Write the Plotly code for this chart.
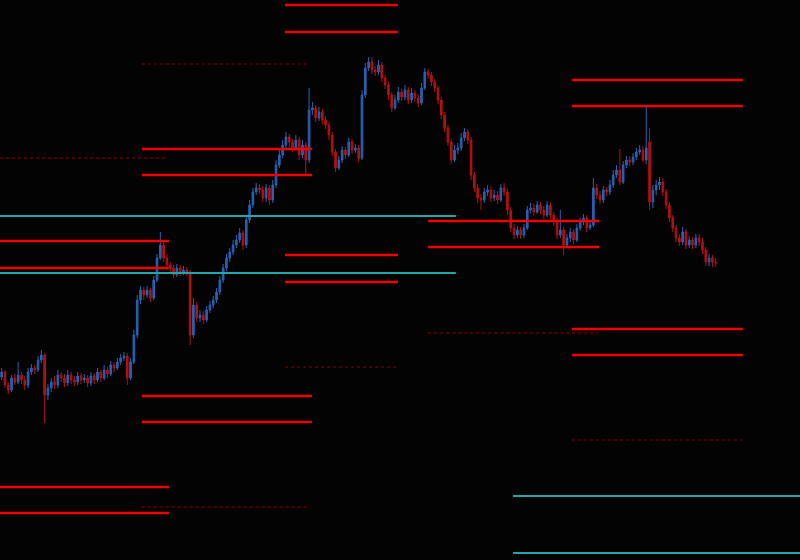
import plotly.graph_objects as go

# ---- candle data (price units, index = bar number) ----
opens = [183,188,175,170,182,178,185,180,175,188,
         192,190,200,205,165,172,178,175,185,182,
         177,185,180,178,184,180,182,177,184,180,
         188,182,190,186,195,192,198,202,204,182,
         198,225,260,270,265,270,262,280,302,315,
         302,295,292,285,292,287,290,288,225,255,
         242,245,240,250,255,260,268,280,292,302,
         308,315,320,327,315,340,355,368,372,370,
         362,372,360,375,395,405,415,423,418,412,
         420,405,415,400,450,452,442,448,440,435,
         425,408,392,400,410,405,418,410,412,402,
         465,492,498,490,488,495,482,475,465,452,
         460,468,463,470,460,467,462,457,472,488,
         485,478,472,460,445,432,418,400,410,412,
         422,428,420,385,372,362,360,368,370,362,
         365,360,372,368,350,332,325,330,325,332,
         350,352,348,355,350,345,355,345,338,325,
         330,315,322,328,320,332,338,342,332,335,
         372,365,360,370,368,375,385,390,378,395,
         400,398,403,408,410,400,418,358,370,375,
         378,368,355,342,332,322,318,328,315,320,
         315,322,318,310,298,302,298]
highs = [192,190,178,185,186,198,188,184,192,196,
         195,204,210,207,176,182,184,190,188,186,
         190,188,184,188,187,186,185,188,187,192,
         190,195,193,199,198,202,206,208,207,202,
         230,265,274,273,274,272,284,306,328,318,
         306,298,295,296,295,294,293,290,262,258,
         250,249,254,259,264,272,284,296,306,312,
         320,325,332,330,345,360,372,377,376,374,
         376,375,380,400,410,420,428,426,421,425,
         423,420,418,472,458,455,453,451,444,438,
         428,411,404,414,413,422,421,416,415,470,
         497,503,503,494,500,498,485,478,468,465,
         473,471,475,473,472,470,466,477,492,491,
         488,481,475,463,448,435,421,415,417,427,
         432,431,423,388,376,366,372,375,374,370,
         369,376,377,371,353,336,334,333,336,354,
         357,356,359,358,354,359,358,348,342,350,
         333,326,332,331,336,342,346,345,339,382,
         376,369,374,373,380,390,395,411,399,404,
         404,407,412,415,414,453,432,375,380,383,
         382,371,358,345,335,326,333,331,324,323,
         326,326,322,313,306,305,302]
lows = [180,172,166,168,175,176,176,170,172,185,
        186,188,197,137,160,168,171,172,178,173,
        174,176,174,175,176,177,173,174,176,178,
        178,180,182,184,188,190,195,199,175,180,
        196,222,256,260,262,258,260,278,300,298,
        290,288,282,283,284,285,284,215,222,238,
        238,236,238,247,252,257,265,277,289,298,
        305,312,317,310,312,337,352,365,366,358,
        358,355,357,372,392,402,412,412,408,409,
        400,402,385,397,445,438,439,436,431,420,
        404,388,390,397,401,403,406,407,398,400,
        462,489,486,484,485,478,471,460,448,450,
        457,459,460,456,457,458,453,455,470,481,
        474,468,456,441,428,414,396,398,406,409,
        419,416,380,368,357,350,357,364,358,359,
        356,358,364,345,328,321,322,321,322,330,
        347,344,346,346,341,343,341,334,321,322,
        305,312,318,316,318,329,335,328,330,333,
        361,356,357,364,365,372,382,375,376,392,
        394,395,400,405,398,396,350,352,365,370,
        364,351,338,328,318,314,315,311,312,311,
        312,314,306,294,294,293,293]
closes = [188,175,170,182,178,185,180,175,188,192,
          190,200,205,165,172,178,175,185,182,177,
          185,180,178,184,180,182,177,184,180,188,
          182,190,186,195,192,198,202,204,182,198,
          225,260,270,265,270,262,280,302,315,302,
          295,292,285,292,287,290,288,225,255,242,
          245,240,250,255,260,268,280,292,302,308,
          315,320,327,315,340,355,368,372,370,362,
          372,360,375,395,405,415,423,418,412,420,
          405,415,400,450,452,442,448,440,435,425,
          408,392,400,410,405,418,410,412,402,465,
          492,498,490,488,495,482,475,465,452,460,
          468,463,470,460,467,462,457,472,488,485,
          478,472,460,445,432,418,400,410,412,422,
          428,420,385,372,362,360,368,370,362,365,
          360,372,368,350,332,325,330,325,332,350,
          352,348,355,350,345,355,345,338,325,330,
          315,322,328,320,332,338,342,332,335,372,
          365,360,370,368,375,385,390,378,395,400,
          398,403,408,410,400,412,358,370,375,378,
          368,355,342,332,322,318,328,315,320,315,
          322,318,310,298,302,298,297]

# ---- level lines: (price, start bar, end bar) ----
red_levels = [555, 528, 411, 385, 480, 454, 319, 292, 305, 278,
              339, 313, 231, 205, 164, 138, 73, 47]
red_start = [85.7, 85.7, 42.4, 42.4, 172.5, 172.5, -0.5, -0.5, 85.7, 85.7,
             129.0, 129.0, 172.5, 172.5, 42.4, 42.4, -0.5, -0.5]
red_end = [119.9, 119.9, 93.9, 93.9, 224.2, 224.2, 50.6, 50.6, 119.9, 119.9,
           180.7, 180.7, 224.2, 224.2, 93.9, 93.9, 50.6, 50.6]

dot_levels = [496, 402, 193, 227, 120, 53]
dot_start = [42.4, -0.5, 85.7, 129.0, 172.5, 42.4]
dot_end = [93.3, 50.3, 119.9, 180.4, 223.9, 93.3]

teal_levels = [344, 287, 64, 7]
teal_start = [-0.5, -0.5, 154.7, 154.7]
teal_end = [137.4, 137.4, 241.5, 241.5]

bars = list(range(len(closes)))

fig = go.Figure()
fig.add_trace(go.Candlestick(
    x=bars, open=opens, high=highs, low=lows, close=closes,
    increasing=dict(line=dict(color="#2563b5", width=1), fillcolor="#2563b5"),
    decreasing=dict(line=dict(color="#b51010", width=1), fillcolor="#b51010"),
    whiskerwidth=0, showlegend=False, hoverinfo="skip"))


def seg_trace(levels, starts, ends, color, width, dash):
    xs, ys = [], []
    for lv, s, e in zip(levels, starts, ends):
        xs += [s, e, None]
        ys += [lv, lv, None]
    return go.Scatter(x=xs, y=ys, mode="lines",
                      line=dict(color=color, width=width, dash=dash),
                      showlegend=False, hoverinfo="skip")


fig.add_trace(seg_trace(dot_levels, dot_start, dot_end, "#8b0000", 1, "dot"))
fig.add_trace(seg_trace(teal_levels, teal_start, teal_end, "#20a8a8", 2, "solid"))
fig.add_trace(seg_trace(red_levels, red_start, red_end, "#f00000", 2.5, "solid"))

fig.update_layout(
    width=800, height=560,
    margin=dict(l=0, r=0, t=0, b=0),
    paper_bgcolor="#030303", plot_bgcolor="#030303",
    xaxis=dict(range=[-0.5, 241.5], visible=False, showgrid=False,
               rangeslider=dict(visible=False), fixedrange=True),
    yaxis=dict(range=[0, 560], visible=False, showgrid=False, fixedrange=True),
    showlegend=False,
)

fig.write_html(
    "out.html",
    config={"displayModeBar": False},
    post_script="document.body.style.margin='0';document.body.style.background='#030303';document.body.style.overflow='hidden';",
)
